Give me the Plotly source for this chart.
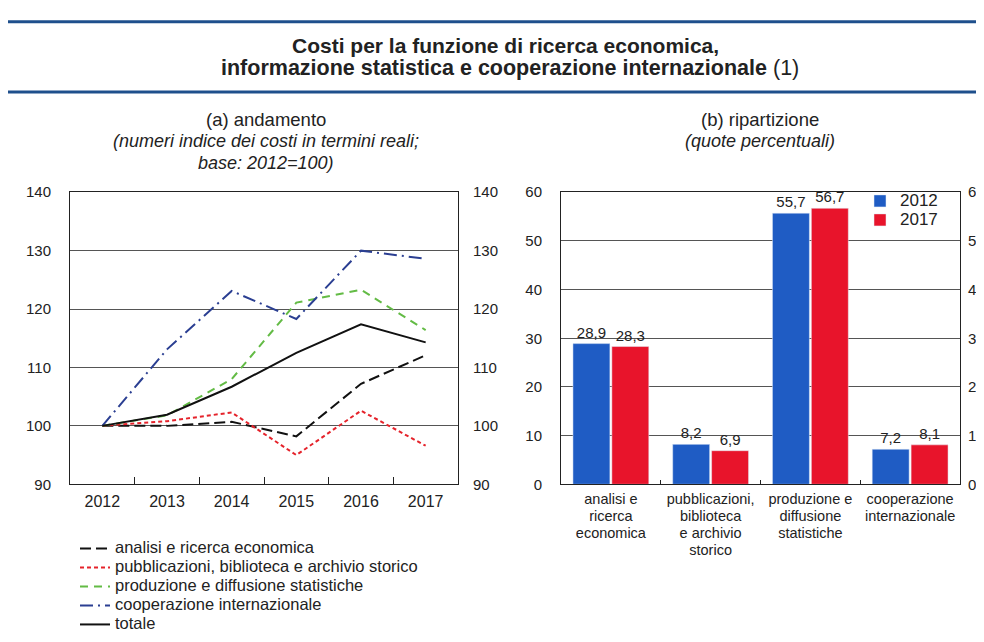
import plotly.graph_objects as go

years = ["2012", "2013", "2014", "2015", "2016", "2017"]
analisi = [100, 100.0, 100.7, 98.2, 107.2, 112.1]
pubblicazioni = [100, 100.8, 102.3, 95.0, 102.6, 96.6]
produzione = [100, 101.8, 108.0, 121.1, 123.3, 116.4]
cooperazione = [100, 113.1, 123.1, 118.3, 130.0, 128.6]
totale = [100, 101.9, 106.7, 112.5, 117.4, 114.3]

bar_cats = ["analisi e<br>ricerca<br>economica",
            "pubblicazioni,<br>biblioteca<br>e archivio<br>storico",
            "produzione e<br>diffusione<br>statistiche",
            "cooperazione<br>internazionale"]
quote_2012 = [28.9, 8.2, 55.7, 7.2]
quote_2017 = [28.3, 6.9, 56.7, 8.1]

FONT = "Liberation Sans, Arial, sans-serif"
TXT = "#222222"
fig = go.Figure()


def big(s, px):
    return f'<span style="font-size:{px}px">{s}</span>'


line_specs = [
    ("analisi e ricerca economica", analisi, "#111111", "11px,5px"),
    ("pubblicazioni, biblioteca e archivio storico", pubblicazioni, "#e5232b", "4px,3px"),
    ("produzione e diffusione statistiche", produzione, "#63bb45", "8px,6px"),
    ("cooperazione internazionale", cooperazione, "#2b3f92", "13px,5px,2px,5px"),
    ("totale", totale, "#111111", "solid"),
]
for name, vals, col, dash in line_specs:
    fig.add_trace(go.Scatter(x=years, y=vals, name=big(name, 16.5), mode="lines",
                             line=dict(color=col, width=2, dash=dash),
                             xaxis="x", yaxis="y", legend="legend"))

fig.add_trace(go.Bar(x=bar_cats, y=quote_2012, name=big("2012", 17), marker_color="#1f5cc4",
                     text=quote_2012, texttemplate="%{y:.1f}", textposition="outside",
                     cliponaxis=False, textfont=dict(size=15, color=TXT),
                     xaxis="x2", yaxis="y2", legend="legend2"))
fig.add_trace(go.Bar(x=bar_cats, y=quote_2017, name=big("2017", 17), marker_color="#e8142b",
                     text=quote_2017, texttemplate="%{y:.1f}", textposition="outside",
                     cliponaxis=False, textfont=dict(size=15, color=TXT),
                     xaxis="x2", yaxis="y2", legend="legend2"))
# invisible traces to carry the right-side axes
fig.add_trace(go.Scatter(x=years, y=totale, xaxis="x", yaxis="y3", showlegend=False,
                         mode="lines", line=dict(width=0), hoverinfo="skip", opacity=0))
fig.add_trace(go.Scatter(x=bar_cats, y=quote_2012, xaxis="x2", yaxis="y4", showlegend=False,
                         mode="lines", line=dict(width=0), hoverinfo="skip", opacity=0))

bar_ticktext = ["<br>".join(big(part, 14.5) for part in c.split("<br>")) for c in bar_cats]

ax_common = dict(showline=True, linecolor="#222", linewidth=1, mirror=True, zeroline=False)
ydom = [1 - 480 / 642, 1 - 180 / 642]
tf_y = dict(size=15, color=TXT)

fig.update_layout(
    width=984, height=642, margin=dict(l=0, r=0, t=0, b=0),
    paper_bgcolor="white", plot_bgcolor="white",
    font=dict(family=FONT, color=TXT),
    separators=",.",
    barmode="group", bargap=0.22, bargroupgap=0.05,
    xaxis=dict(domain=[62 / 984, 450 / 984], anchor="y", type="category",
               range=[-0.5, 5.5],
               ticks="inside", tickson="boundaries", ticklen=7, tickcolor="#222",
               showgrid=False, tickfont=dict(size=16, color=TXT), ticklabelstandoff=3,
               **ax_common),
    yaxis=dict(domain=ydom, anchor="x", range=[90, 140], dtick=10,
               showgrid=True, gridcolor="#555", gridwidth=1, ticks="",
               ticklabelstandoff=15, tickfont=tf_y, **ax_common),
    yaxis3=dict(domain=ydom, anchor="x", overlaying="y", side="right", range=[90, 140],
                dtick=10, showgrid=False, ticklabelstandoff=14,
                tickfont=tf_y, zeroline=False),
    xaxis2=dict(domain=[553 / 984, 952 / 984], anchor="y2", type="category",
                tickmode="array", tickvals=bar_cats, ticktext=bar_ticktext,
                ticks="inside", tickson="boundaries", ticklen=4, tickcolor="#222",
                showgrid=False, tickfont=dict(size=13, color=TXT), ticklabelstandoff=3,
                **ax_common),
    yaxis2=dict(domain=ydom, anchor="x2", range=[0, 60], dtick=10,
                showgrid=True, gridcolor="#555", gridwidth=1, ticks="",
                ticklabelstandoff=15, tickfont=tf_y, **ax_common),
    yaxis4=dict(domain=ydom, anchor="x2", overlaying="y2", side="right", range=[0, 60],
                dtick=10, showgrid=False, ticklabelstandoff=7,
                tickfont=tf_y, zeroline=False),
    legend=dict(x=67 / 984, y=1 - 531 / 642, xanchor="left", yanchor="top",
                bgcolor="rgba(0,0,0,0)", font=dict(size=12, color=TXT),
                itemwidth=30, tracegroupgap=0),
    legend2=dict(x=852 / 984, y=1 - 174 / 642, xanchor="left", yanchor="top",
                 bgcolor="rgba(0,0,0,0)", font=dict(size=12, color=TXT),
                 itemwidth=30, tracegroupgap=0),
    showlegend=True,
)

# header rules
for yy in [5, 77]:
    fig.add_shape(type="line", xref="paper", yref="paper", x0=0, x1=1,
                  y0=1 - yy / 642, y1=1 - yy / 642, line=dict(color="#1e4f8c", width=3))

annots = [
    ("<b>Costi per la funzione di ricerca economica,</b>", 497, 29, 21),
    ("<b>informazione statistica e cooperazione internazionale</b> (1)", 502, 52, 21.5),
    ("(a) andamento", 258, 105, 18.5),
    ("<i>(numeri indice dei costi in termini reali;</i>", 258, 127, 18),
    ("<i>base: 2012=100)</i>", 258, 150, 18),
    ("(b) ripartizione", 752, 105, 18.5),
    ("<i>(quote percentuali)</i>", 752, 127, 18),
]
for txt, xx, yy, sz in annots:
    fig.add_annotation(text=txt, xref="paper", yref="paper", x=xx / 984, y=1 - yy / 642,
                       showarrow=False, xanchor="center", yanchor="middle",
                       font=dict(size=sz, color=TXT, family=FONT))

fig.write_html("out.html")
